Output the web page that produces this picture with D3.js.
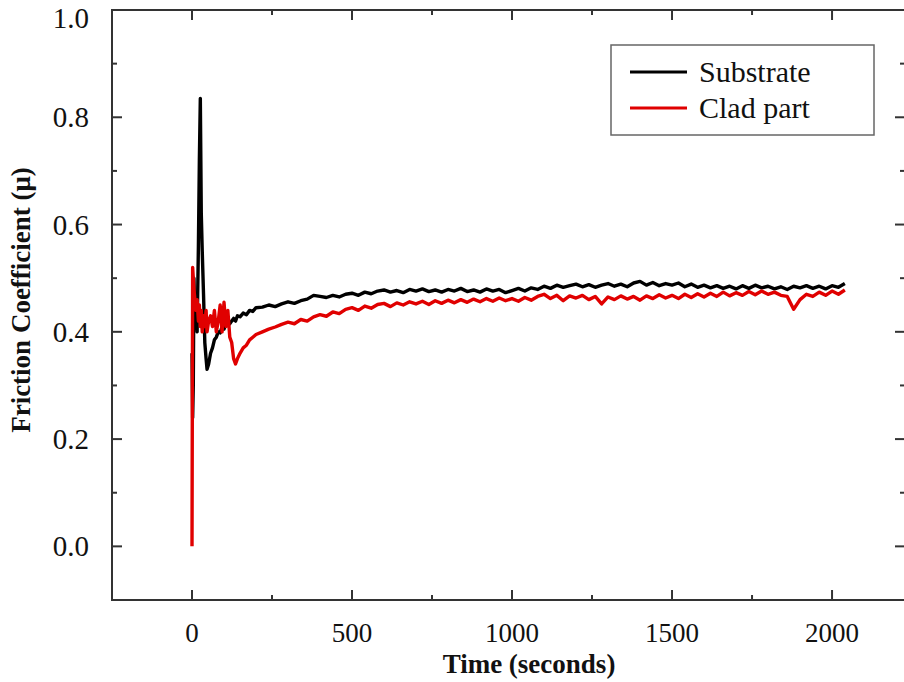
<!DOCTYPE html>
<html>
<head>
<meta charset="utf-8">
<script src="https://cdn.jsdelivr.net/npm/d3@7.9.0/dist/d3.min.js"></script>
<style>
  body { margin: 0; background: #fff; }
  svg { display: block; }
</style>
</head>
<body>
<svg id="chart" width="904" height="682"></svg>
<script>
// early part of the test, fine time steps (seconds)
const earlyTime = [0, 2, 4, 6, 9, 12, 16, 20, 23, 26, 29, 32, 36, 40, 44, 47, 52, 58, 64, 70,
  76, 82, 88, 94, 100, 106, 112, 118, 124, 130, 136, 142, 150, 160, 170, 180, 190, 200];
const earlySubstrate = [0.36, 0.24, 0.30, 0.50, 0.42, 0.45, 0.40, 0.56, 0.72, 0.835, 0.62, 0.55, 0.47,
  0.38, 0.35, 0.33, 0.34, 0.36, 0.37, 0.385, 0.39, 0.40, 0.398, 0.41, 0.405, 0.415, 0.42, 0.415,
  0.42, 0.425, 0.42, 0.43, 0.428, 0.435, 0.432, 0.44, 0.438, 0.445];
const earlyClad = [0.0, 0.52, 0.50, 0.48, 0.46, 0.44, 0.46, 0.42, 0.45, 0.41, 0.44, 0.40, 0.43,
  0.41, 0.44, 0.40, 0.42, 0.43, 0.41, 0.44, 0.40, 0.42, 0.45, 0.40, 0.455, 0.41, 0.44, 0.39,
  0.38, 0.35, 0.34, 0.35, 0.36, 0.37, 0.375, 0.385, 0.39, 0.395];

// rest of the test, 20 s steps from 220 s to 2040 s
const lateSubstrate = [0.446, 0.450, 0.447, 0.452, 0.456, 0.453, 0.458, 0.461, 0.468, 0.466,
  0.464, 0.468, 0.465, 0.470, 0.472, 0.468, 0.474, 0.471, 0.476, 0.478, 0.474, 0.477, 0.473,
  0.479, 0.476, 0.480, 0.475, 0.478, 0.474, 0.479, 0.476, 0.481, 0.475, 0.478, 0.474, 0.480,
  0.476, 0.479, 0.473, 0.477, 0.481, 0.476, 0.482, 0.479, 0.485, 0.481, 0.487, 0.483, 0.486,
  0.489, 0.484, 0.488, 0.483, 0.487, 0.490, 0.485, 0.489, 0.484, 0.491, 0.494, 0.487, 0.492,
  0.486, 0.490, 0.487, 0.491, 0.484, 0.489, 0.483, 0.487, 0.482, 0.486, 0.481, 0.485, 0.480,
  0.486, 0.481, 0.487, 0.482, 0.485, 0.480, 0.484, 0.479, 0.485, 0.482, 0.486, 0.481, 0.485,
  0.480, 0.486, 0.483, 0.490];
const lateClad = [0.400, 0.405, 0.409, 0.414, 0.418, 0.415, 0.423, 0.420, 0.428, 0.432, 0.429,
  0.437, 0.434, 0.442, 0.445, 0.440, 0.448, 0.444, 0.451, 0.453, 0.447, 0.454, 0.450, 0.456,
  0.452, 0.457, 0.451, 0.458, 0.453, 0.459, 0.454, 0.460, 0.455, 0.461, 0.456, 0.462, 0.457,
  0.463, 0.458, 0.462, 0.457, 0.464, 0.459, 0.466, 0.470, 0.462, 0.468, 0.458, 0.467, 0.463,
  0.468, 0.460, 0.466, 0.452, 0.465, 0.460, 0.467, 0.461, 0.466, 0.459, 0.467, 0.462, 0.469,
  0.463, 0.468, 0.462, 0.470, 0.464, 0.471, 0.465, 0.472, 0.466, 0.474, 0.467, 0.473, 0.468,
  0.475, 0.469, 0.476, 0.470, 0.474, 0.468, 0.466, 0.442, 0.460, 0.470, 0.466, 0.474, 0.468,
  0.476, 0.470, 0.478];
const lateTime = lateClad.map((_, i) => 220 + i * 20);

const xTicks = [0, 500, 1000, 1500, 2000];
const yTicks = [0.0, 0.2, 0.4, 0.6, 0.8, 1.0];
const seriesNames = ['Substrate', 'Clad part'];
const seriesColors = ['#000000', '#e00000'];

const serif = '"Liberation Serif", "Times New Roman", serif';

const substrate = earlyTime.map((t, i) => [t, earlySubstrate[i]])
  .concat(lateTime.map((t, i) => [t, lateSubstrate[i]]));
const clad = earlyTime.map((t, i) => [t, earlyClad[i]])
  .concat(lateTime.map((t, i) => [t, lateClad[i]]));

const svg = d3.select('#chart');
const m = { left: 112, right: 905, top: 10, bottom: 600 };

const x = d3.scaleLinear().domain([-250, 2228]).range([m.left, m.right]);
const y = d3.scaleLinear().domain([-0.1, 1.0]).range([m.bottom, m.top]);

const line = d3.line().x(d => x(d[0])).y(d => y(d[1]));

const g = svg.append('g');

// data lines, clad drawn last like the reference
[substrate, clad].forEach((s, i) => {
  g.append('path')
    .datum(s)
    .attr('fill', 'none')
    .attr('stroke', seriesColors[i])
    .attr('stroke-width', 3.4)
    .attr('stroke-linejoin', 'round')
    .attr('d', line);
});

// frame
g.append('rect')
  .attr('x', m.left).attr('y', m.top)
  .attr('width', m.right - m.left).attr('height', m.bottom - m.top)
  .attr('fill', 'none').attr('stroke', '#333').attr('stroke-width', 2);

// ticks (inward, on all four sides)
const xMinor = [250, 750, 1250, 1750];
const yMinor = [0.1, 0.3, 0.5, 0.7, 0.9];
const tickStroke = s => s.attr('stroke', '#333').attr('stroke-width', 2);

xTicks.forEach(v => {
  g.append('line').attr('x1', x(v)).attr('x2', x(v)).attr('y1', m.bottom).attr('y2', m.bottom - 10).call(tickStroke);
  g.append('line').attr('x1', x(v)).attr('x2', x(v)).attr('y1', m.top).attr('y2', m.top + 10).call(tickStroke);
});
xMinor.forEach(v => {
  g.append('line').attr('x1', x(v)).attr('x2', x(v)).attr('y1', m.bottom).attr('y2', m.bottom - 5).call(tickStroke);
  g.append('line').attr('x1', x(v)).attr('x2', x(v)).attr('y1', m.top).attr('y2', m.top + 5).call(tickStroke);
});
yTicks.forEach(v => {
  g.append('line').attr('x1', m.left).attr('x2', m.left + 10).attr('y1', y(v)).attr('y2', y(v)).call(tickStroke);
  g.append('line').attr('x1', m.right).attr('x2', m.right - 10).attr('y1', y(v)).attr('y2', y(v)).call(tickStroke);
});
yMinor.forEach(v => {
  g.append('line').attr('x1', m.left).attr('x2', m.left + 5).attr('y1', y(v)).attr('y2', y(v)).call(tickStroke);
  g.append('line').attr('x1', m.right).attr('x2', m.right - 5).attr('y1', y(v)).attr('y2', y(v)).call(tickStroke);
});

// tick labels
g.selectAll('.xl').data(xTicks).join('text')
  .attr('x', d => x(d)).attr('y', 642)
  .attr('text-anchor', 'middle').attr('font-size', 27)
  .attr('font-family', serif).attr('fill', '#111')
  .text(d => d);
g.selectAll('.yl').data(yTicks).join('text')
  .attr('x', 89).attr('y', d => d === 1.0 ? y(d) + 18 : y(d) + 10)
  .attr('text-anchor', 'end').attr('font-size', 29)
  .attr('font-family', serif).attr('fill', '#111')
  .text(d => d.toFixed(1));

// axis titles
svg.append('text')
  .attr('x', 529).attr('y', 673)
  .attr('text-anchor', 'middle').attr('font-size', 27).attr('font-weight', 'bold')
  .attr('font-family', serif).attr('fill', '#111')
  .text('Time (seconds)');
svg.append('text')
  .attr('transform', 'translate(30,300) rotate(-90)')
  .attr('text-anchor', 'middle').attr('font-size', 27).attr('font-weight', 'bold')
  .attr('font-family', serif).attr('fill', '#111')
  .text('Friction Coefficient (μ)');

// legend
const lg = svg.append('g');
lg.append('rect')
  .attr('x', 611).attr('y', 45).attr('width', 263).attr('height', 90)
  .attr('fill', '#fff').attr('stroke', '#666').attr('stroke-width', 1.5);
seriesNames.forEach((name, i) => {
  const ly = 72 + i * 36;
  lg.append('line').attr('x1', 630).attr('x2', 687).attr('y1', ly).attr('y2', ly)
    .attr('stroke', seriesColors[i]).attr('stroke-width', 3);
  lg.append('text').attr('x', 699).attr('y', ly + 10).attr('font-size', 30)
    .attr('font-family', serif).attr('fill', '#111')
    .text(name);
});
</script>
</body>
</html>
